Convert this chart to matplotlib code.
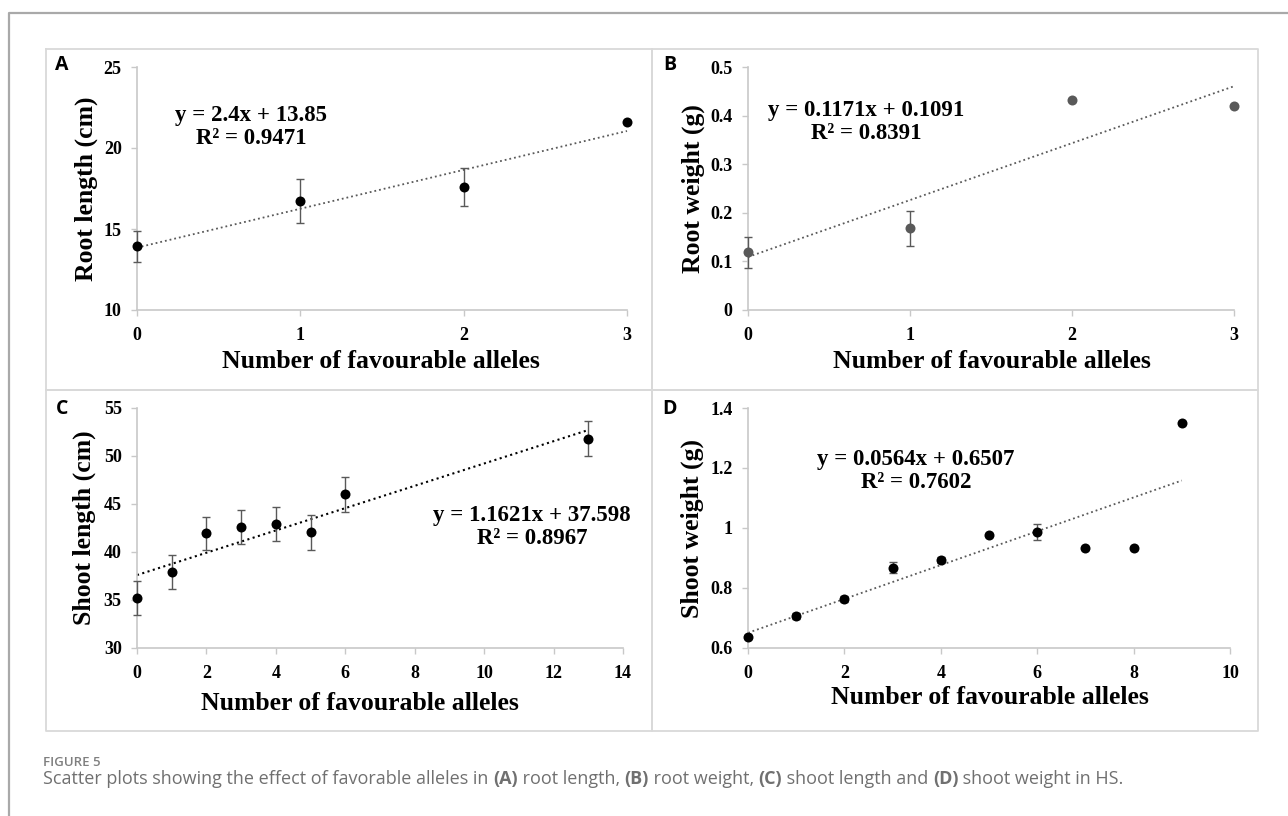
import numpy as np
import matplotlib
matplotlib.use("Agg")
import matplotlib.pyplot as plt
from matplotlib.lines import Line2D

# ---------------- data ----------------
A_x = [0, 1, 2, 3]
A_y = [13.92, 16.71, 17.60, 21.63]
A_err = [0.94, 1.35, 1.18, 0.0]
A_fit = (2.4, 13.85)
A_eq = "y = 2.4x + 13.85\nR² = 0.9471"

B_x = [0, 1, 2, 3]
B_y = [0.119, 0.168, 0.433, 0.420]
B_err = [0.032, 0.036, 0.0, 0.0]
B_fit = (0.1171, 0.1091)
B_eq = "y = 0.1171x + 0.1091\nR² = 0.8391"

C_x = [0, 1, 2, 3, 4, 5, 6, 13]
C_y = [35.21, 37.92, 41.94, 42.60, 42.95, 42.05, 46.00, 51.81]
C_err = [1.74, 1.75, 1.74, 1.80, 1.77, 1.80, 1.80, 1.80]
C_fit = (1.1621, 37.598)
C_eq = "y = 1.1621x + 37.598\nR² = 0.8967"

D_x = [0, 1, 2, 3, 4, 5, 6, 7, 8, 9]
D_y = [0.638, 0.706, 0.763, 0.868, 0.892, 0.978, 0.986, 0.933, 0.933, 1.351]
D_err = [0.006, 0.010, 0.010, 0.018, 0.010, 0.0, 0.027, 0.0, 0.0, 0.0]
D_fit = (0.0564, 0.6507)
D_eq = "y = 0.0564x + 0.6507\nR² = 0.7602"

A_yticks = [10, 15, 20, 25]
A_yticklabels = ["10", "15", "20", "25"]
A_xticks = [0, 1, 2, 3]
B_yticks = [0, 0.1, 0.2, 0.3, 0.4, 0.5]
B_yticklabels = ["0", "0.1", "0.2", "0.3", "0.4", "0.5"]
B_xticks = [0, 1, 2, 3]
C_yticks = [30, 35, 40, 45, 50, 55]
C_yticklabels = ["30", "35", "40", "45", "50", "55"]
C_xticks = [0, 2, 4, 6, 8, 10, 12, 14]
D_yticks = [0.6, 0.8, 1.0, 1.2, 1.4]
D_yticklabels = ["0.6", "0.8", "1", "1.2", "1.4"]
D_xticks = [0, 2, 4, 6, 8, 10]

xlabel = "Number of favourable alleles"
ylabels = ["Root length (cm)", "Root weight (g)", "Shoot length (cm)", "Shoot weight (g)"]
letters = ["A", "B", "C", "D"]

# ---------------- figure ----------------
W, H = 1288, 816
fig = plt.figure(figsize=(W / 100, H / 100), dpi=100)
fig.patch.set_facecolor("white")

SERIF = ["Liberation Serif", "DejaVu Serif"]
SANS = ["Open Sans", "DejaVu Sans"]

def fx(px):
    return px / W

def fy(py):
    return 1 - py / H

# outer card frame (left + top)
fig.add_artist(Line2D([fx(9), fx(9), fx(1290)], [fy(818), fy(13), fy(13)],
                      transform=fig.transFigure, color="#a9a9a9", lw=1.6))
# panel boxes
pc = "#d9d9d9"
for (x0, y0, x1, y1) in [(46, 49, 652, 390), (652, 49, 1258, 390),
                         (46, 390, 652, 731), (652, 390, 1258, 731)]:
    fig.add_artist(Line2D([fx(x0), fx(x1), fx(x1), fx(x0), fx(x0)],
                          [fy(y0), fy(y0), fy(y1), fy(y1), fy(y0)],
                          transform=fig.transFigure, color=pc, lw=1.3))

# axes rectangles in pixel coords: (left, top, right, bottom)
rects = [(137, 67, 627, 310), (748, 67, 1234, 310),
         (137, 408, 623, 648), (748, 408, 1230, 648)]

panels = [
    (A_x, A_y, A_err, A_fit, A_eq, A_xticks, A_yticks, A_yticklabels, (10, 25), "#000000", "#595959", 1.3),
    (B_x, B_y, B_err, B_fit, B_eq, B_xticks, B_yticks, B_yticklabels, (0, 0.5), "#595959", "#595959", 1.3),
    (C_x, C_y, C_err, C_fit, C_eq, C_xticks, C_yticks, C_yticklabels, (30, 55), "#000000", "#000000", 1.5),
    (D_x, D_y, D_err, D_fit, D_eq, D_xticks, D_yticks, D_yticklabels, (0.6, 1.4), "#000000", "#595959", 1.3),
]

eq_pos = [(251, 127), (866, 122), (532, 527), (916, 471)]
ylabel_x = [86, 693, 84, 692]
xlabel_pos = [(381, 362), (992, 361), (360, 703), (990, 698)]
letter_pos = [(62, 65), (670, 65), (62, 409), (670, 409)]

axcol = "#c8c8c8"
for i, (rect, p) in enumerate(zip(rects, panels)):
    l, t, r, b = rect
    ax = fig.add_axes([fx(l), fy(b), (r - l) / W, (b - t) / H])
    xs, ys, errs, fit, eq, xt, yt, ytl, ylim, mcol, lcol, lw = p
    ax.set_xlim(xt[0], xt[-1])
    ax.set_ylim(*ylim)
    for s in ["top", "right"]:
        ax.spines[s].set_visible(False)
    for s in ["left", "bottom"]:
        ax.spines[s].set_color(axcol)
        ax.spines[s].set_linewidth(1.2)
    ax.set_xticks(xt)
    ax.set_xticklabels([str(v) for v in xt], fontfamily=SERIF, fontweight="bold", fontsize=13)
    ax.set_yticks(yt)
    ax.set_yticklabels(ytl, fontfamily=SERIF, fontweight="bold", fontsize=13)
    ax.tick_params(axis="both", direction="out", length=4, width=1.0, color=axcol)
    ax.tick_params(axis="x", pad=8)
    ax.tick_params(axis="y", pad=7)
    ax.patch.set_alpha(0)

    # trendline
    xf = np.array([xs[0], xs[-1]], dtype=float)
    ax.plot(xf, fit[0] * xf + fit[1], linestyle=":", color=lcol, lw=lw, clip_on=False, zorder=2)

    # error bars
    xe = [x for x, e in zip(xs, errs) if e > 0]
    ye = [y for y, e in zip(ys, errs) if e > 0]
    ee = [e for e in errs if e > 0]
    if xe:
        ax.errorbar(xe, ye, yerr=ee, fmt="none", ecolor="#595959", elinewidth=1.0,
                    capsize=2.6, capthick=1.0, clip_on=False, zorder=3)
    ax.plot(xs, ys, "o", color=mcol, markersize=7.2, clip_on=False, zorder=4, markeredgewidth=0)

    ex, ey = eq_pos[i]
    fig.text(fx(ex), fy(ey), eq, ha="center", va="center", multialignment="center",
             fontfamily=SERIF, fontweight="bold", fontsize=16.5, linespacing=1.1)
    fig.text(fx(ylabel_x[i]), fy((t + b) / 2), ylabels[i], rotation=90, ha="center", va="center",
             fontfamily=SERIF, fontweight="bold", fontsize=18.5)
    lx, ly = xlabel_pos[i]
    fig.text(fx(lx), fy(ly), xlabel, ha="center", va="center",
             fontfamily=SERIF, fontweight="bold", fontsize=18.5)
    px, py = letter_pos[i]
    fig.text(fx(px), fy(py), letters[i], ha="center", va="center",
             fontfamily=SANS, fontweight="bold", fontsize=14)

# caption
fig.text(fx(43), fy(762), "FIGURE 5", ha="left", va="center", fontfamily=SANS,
         fontweight="semibold", fontsize=9.5, color="#7f7f7f")

segments = [("Scatter plots showing the effect of favorable alleles in ", "normal"),
            ("(A)", "bold"), (" root length, ", "normal"), ("(B)", "bold"),
            (" root weight, ", "normal"), ("(C)", "bold"), (" shoot length and ", "normal"),
            ("(D)", "bold"), (" shoot weight in HS.", "normal")]
fig.canvas.draw()
renderer = fig.canvas.get_renderer()
cur = 43.0
cap_y = 779
CAP_FS = 13
for txt, wt in segments:
    tt = fig.text(fx(cur), fy(cap_y), txt.replace(" ", "\u00a0"), ha="left", va="center",
                  fontfamily=SANS, fontweight=wt, fontsize=CAP_FS, color="#707070")
    probe = fig.text(0, 0, "|" + txt + "|", fontfamily=SANS, fontweight=wt, fontsize=CAP_FS)
    bar = fig.text(0, 0, "||", fontfamily=SANS, fontweight=wt, fontsize=CAP_FS)
    wfull = probe.get_window_extent(renderer).width - bar.get_window_extent(renderer).width
    probe.remove(); bar.remove()
    cur += wfull

fig.savefig("out.png", dpi=100)
